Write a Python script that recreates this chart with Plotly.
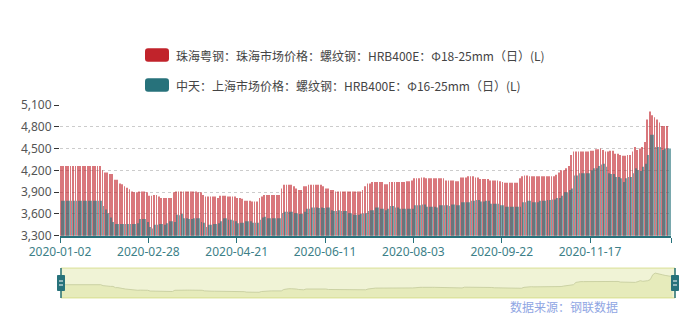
import pandas as pd
import plotly.graph_objects as go

# ---- trading calendar (China, 2020) ----
HOLIDAYS = ["2020-01-01", "2020-01-24", "2020-01-27", "2020-01-28", "2020-01-29",
            "2020-01-30", "2020-01-31", "2020-04-06", "2020-05-01", "2020-05-04",
            "2020-05-05", "2020-06-25", "2020-06-26", "2020-10-01", "2020-10-02",
            "2020-10-05", "2020-10-06", "2020-10-07", "2020-10-08"]
MAKEUP_DAYS = ["2020-01-19", "2020-04-26", "2020-05-09", "2020-06-28",
               "2020-09-27", "2020-10-10"]

days = pd.bdate_range("2020-01-02", "2020-12-31")
days = days[~days.isin(pd.to_datetime(HOLIDAYS))]
days = days.union(pd.to_datetime(MAKEUP_DAYS)).sort_values()
dates = [d.strftime("%Y-%m-%d") for d in days]

# ---- prices (yuan/ton) ----
zhuhai = [
    4260, 4260, 4260, 4260, 4260, 4260, 4260, 4260, 4260, 4260, 4260, 4260, 4260, 4260, 4260, 4260, 4260,
    4200, 4170, 4170, 4150, 4150,
    4070, 4070, 4020, 4010, 3980, 3960, 3940, 3910, 3900, 3900,
    3910, 3910, 3910, 3900, 3850, 3850, 3860, 3860, 3840,
    3820, 3820, 3820, 3820, 3820,
    3900,
    3910, 3910, 3910, 3910, 3910, 3910, 3910, 3910, 3910,
    3900, 3900, 3860,
    3840, 3840, 3840, 3840, 3840,
    3820,
    3850, 3850, 3850,
    3840, 3840, 3840, 3840,
    3820, 3820, 3810,
    3780, 3780, 3780,
    3770, 3770, 3770,
    3820, 3840,
    3860, 3860, 3860, 3860, 3860, 3860, 3860,
    3950,
    4000, 4000, 4000, 4000,
    3980, 3950, 3930, 3930, 3980, 3980,
    4000, 4000, 4000, 4000, 4000, 4000,
    3980, 3950, 3950, 3930, 3930,
    3910, 3910, 3910, 3910, 3910, 3910, 3910, 3910, 3910, 3910, 3910,
    3930, 3980, 4020, 4020,
    4040, 4040, 4040, 4040, 4040,
    4010, 4010,
    4040, 4040, 4040, 4040, 4040, 4040, 4040,
    4050, 4050, 4060,
    4090, 4090, 4090,
    4100, 4100,
    4090, 4090, 4090, 4090, 4090, 4090, 4090, 4090,
    4060, 4060, 4060, 4060,
    4050, 4050,
    4100, 4100, 4100,
    4120, 4120, 4120,
    4100, 4100,
    4080, 4080, 4080, 4080,
    4060, 4060, 4060, 4060,
    4050, 4040,
    4030, 4030, 4030, 4030, 4030, 4030,
    4090, 4120, 4130, 4130,
    4120, 4120, 4120, 4120, 4120, 4120, 4120, 4120, 4120, 4120, 4120,
    4140, 4170, 4200, 4200, 4230, 4260, 4410,
    4460, 4460, 4460, 4460, 4460, 4460, 4460,
    4470, 4470, 4490, 4490, 4500, 4480, 4460, 4460, 4470, 4470,
    4430, 4430, 4410, 4400, 4400, 4410, 4410, 4460, 4520, 4480, 4500, 4520, 4590,
    4900, 5010, 4960, 4930, 4900, 4860, 4810, 4810, 4810, None,
]

zhongtian = [
    3780, 3780, 3780, 3780, 3780, 3780, 3780, 3780, 3780, 3780, 3780, 3780, 3780, 3780, 3780, 3780, 3780,
    3710, 3660, 3610, 3550, 3490,
    3460, 3460, 3460, 3460, 3460, 3460, 3460, 3460, 3460,
    3470, 3530, 3530, 3530, 3490, 3420, 3400,
    3450, 3450, 3460, 3460, 3450, 3470, 3500, 3500, 3490,
    3590, 3580, 3600, 3540, 3540, 3530, 3530,
    3540, 3540, 3540,
    3490, 3480, 3420, 3450, 3450, 3460, 3460, 3470, 3500,
    3540, 3540, 3520, 3520, 3510, 3500, 3470, 3480, 3480,
    3500, 3500, 3500,
    3480, 3480, 3480,
    3520, 3550, 3560,
    3540, 3540, 3540, 3540, 3540, 3540,
    3610,
    3630, 3630, 3630, 3630,
    3610, 3610, 3600, 3600, 3630, 3670, 3670,
    3690, 3690, 3690,
    3680, 3690, 3680, 3690, 3690, 3650, 3640, 3640, 3650,
    3640, 3640, 3640,
    3610, 3610,
    3590, 3590, 3590,
    3600, 3610, 3610, 3640, 3650, 3650, 3690, 3690, 3670, 3670, 3650, 3670, 3710, 3710, 3690, 3690,
    3670, 3670, 3670, 3670, 3670, 3670,
    3720, 3720, 3720,
    3730, 3730,
    3700, 3700, 3700, 3700,
    3690,
    3720, 3720, 3720, 3720,
    3710, 3730, 3730, 3720, 3720,
    3760, 3760, 3760, 3760,
    3780, 3780, 3790, 3790, 3770, 3770, 3780, 3780,
    3740, 3740, 3740, 3740,
    3720, 3720,
    3700, 3700, 3700, 3700, 3700, 3700, 3700,
    3760, 3760, 3780, 3780,
    3760, 3760, 3760,
    3780, 3780, 3780,
    3790, 3790, 3800, 3800, 3820, 3820, 3850, 3900, 3900, 3930, 3950, 4130, 4130,
    4160, 4160, 4160, 4160, 4160,
    4200, 4230, 4230, 4260, 4280, 4290, 4250, 4160, 4150, 4150, 4110, 4110, 4090, 4040,
    4090, 4110, 4110, 4160, 4230, 4200, 4190, 4250, 4290, 4410, 4690, 4690, 4520, 4520,
    4520, 4480, 4500, 4500, 4500,
]

NAME_ZH = "珠海粤钢：珠海市场价格：螺纹钢：HRB400E：Φ18-25mm（日）(L)"
NAME_ZT = "中天：上海市场价格：螺纹钢：HRB400E：Φ16-25mm（日）(L)"
y_ticks = [3300, 3600, 3900, 4200, 4500, 4800, 5100]
SOURCE = "数据来源：钢联数据"

RED = "#C1232B"
TEAL = "#27727B"
W, H = 691, 326
FONT = "Noto Sans, Noto Sans CJK SC, sans-serif"


def fx(p):
    return p / W


def fy(p):
    return 1 - p / H


idx = list(range(len(dates)))
tick_pos = list(range(0, len(dates), 36))

fig = go.Figure()
fig.add_trace(go.Bar(x=idx, y=zhuhai, name=NAME_ZH,
                     marker=dict(color=RED, opacity=0.62, line=dict(width=0)),
                     showlegend=False))
fig.add_trace(go.Bar(x=idx, y=zhongtian, name=NAME_ZT,
                     marker=dict(color=TEAL, opacity=0.62, line=dict(width=0)),
                     showlegend=False))

# overview strip under the chart
shadow_x = [i for i, v in zip(idx, zhuhai) if v is not None]
shadow_y = [v for v in zhuhai if v is not None]
fig.add_trace(go.Scatter(x=shadow_x, y=shadow_y, xaxis="x2", yaxis="y2", mode="lines",
                         line=dict(color="rgba(200,206,160,0.9)", width=1),
                         fill="tozeroy", fillcolor="rgba(205,214,120,0.28)",
                         hoverinfo="skip", showlegend=False))

fig.update_layout(
    width=W, height=H,
    margin=dict(l=0, r=0, t=0, b=0, autoexpand=False),
    paper_bgcolor="white", plot_bgcolor="white",
    font=dict(family=FONT, size=12, color="#555"),
    barmode="group", bargap=0.2, bargroupgap=0.15,
    xaxis=dict(
        domain=[fx(60), fx(671)], range=[-0.5, len(dates) - 0.5],
        automargin=False,
        tickmode="array",
        tickvals=[p - 0.5 for p in tick_pos] + [len(dates) - 0.5],
        ticktext=[dates[p] for p in tick_pos] + [""],
        showline=True, linecolor=TEAL, linewidth=2,
        ticks="outside", ticklen=5, tickcolor=TEAL, tickwidth=1,
        ticklabelstandoff=-1,
        tickfont=dict(color="#3d7f88", size=12),
        showgrid=False, zeroline=False,
    ),
    yaxis=dict(
        domain=[fy(235.7), fy(105)], range=[3300, 5100],
        automargin=False,
        tickmode="array", tickvals=y_ticks, tickformat=",d",
        ticks="outside", ticklen=5, tickcolor="#333", tickwidth=1,
        tickfont=dict(color="#555", size=12),
        showline=False, zeroline=False,
        showgrid=True, gridcolor="#cccccc", gridwidth=1, griddash="3px,3px",
    ),
    xaxis2=dict(domain=[fx(61), fx(675)], range=[0, len(dates) - 1], anchor="y2",
                visible=False, fixedrange=True, automargin=False),
    yaxis2=dict(domain=[fy(298), fy(268)], range=[3400, 5340], anchor="x2",
                visible=False, fixedrange=True, automargin=False),
)

shapes = []
# overview strip background and border
shapes.append(dict(type="rect", xref="paper", yref="paper",
                   x0=fx(61), x1=fx(675), y0=fy(298), y1=fy(268),
                   fillcolor="rgba(181,195,52,0.2)", line=dict(color="rgba(181,195,52,0.45)", width=1),
                   layer="below"))
# range handles
for hx in (61, 675):
    shapes.append(dict(type="line", xref="paper", yref="paper",
                       x0=fx(hx), x1=fx(hx), y0=fy(298), y1=fy(268),
                       line=dict(color=TEAL, width=1.5)))
    shapes.append(dict(type="rect", xref="paper", yref="paper",
                       x0=fx(hx - 3.5), x1=fx(hx + 3.5), y0=fy(290.5), y1=fy(275.5),
                       fillcolor=TEAL, line=dict(color=TEAL, width=1)))
    for ly in (281, 285):
        shapes.append(dict(type="line", xref="paper", yref="paper",
                           x0=fx(hx - 2), x1=fx(hx + 2), y0=fy(ly), y1=fy(ly),
                           line=dict(color="white", width=1)))


def rounded_rect(x0, y0, x1, y1, r):
    X0, X1 = fx(x0), fx(x1)
    Y0, Y1 = fy(y0), fy(y1)
    rx, ry = r / W, r / H
    return (f"M {X0 + rx},{Y0} L {X1 - rx},{Y0} Q {X1},{Y0} {X1},{Y0 - ry} "
            f"L {X1},{Y1 + ry} Q {X1},{Y1} {X1 - rx},{Y1} L {X0 + rx},{Y1} "
            f"Q {X0},{Y1} {X0},{Y1 + ry} L {X0},{Y0 - ry} Q {X0},{Y0} {X0 + rx},{Y0} Z")


# legend swatches
for (top, color) in ((48.3, RED), (78.3, TEAL)):
    shapes.append(dict(type="path", xref="paper", yref="paper",
                       path=rounded_rect(145, top, 169, top + 13.4, 3),
                       fillcolor=color, line=dict(width=0)))

fig.update_layout(shapes=shapes)

annotations = [
    dict(text=NAME_ZH, x=fx(174), y=fy(55), xref="paper", yref="paper",
         xanchor="left", yanchor="middle", showarrow=False,
         font=dict(family="Noto Sans CJK SC", size=12, color="#444")),
    dict(text=NAME_ZT, x=fx(174), y=fy(85), xref="paper", yref="paper",
         xanchor="left", yanchor="middle", showarrow=False,
         font=dict(family="Noto Sans CJK SC", size=12, color="#444")),
    dict(text=SOURCE, x=fx(564), y=fy(306), xref="paper", yref="paper",
         xanchor="center", yanchor="middle", showarrow=False,
         font=dict(family="Noto Sans CJK SC", size=12, color="#8fa6e3")),
]
fig.update_layout(annotations=annotations)

fig.write_html("out.html")
